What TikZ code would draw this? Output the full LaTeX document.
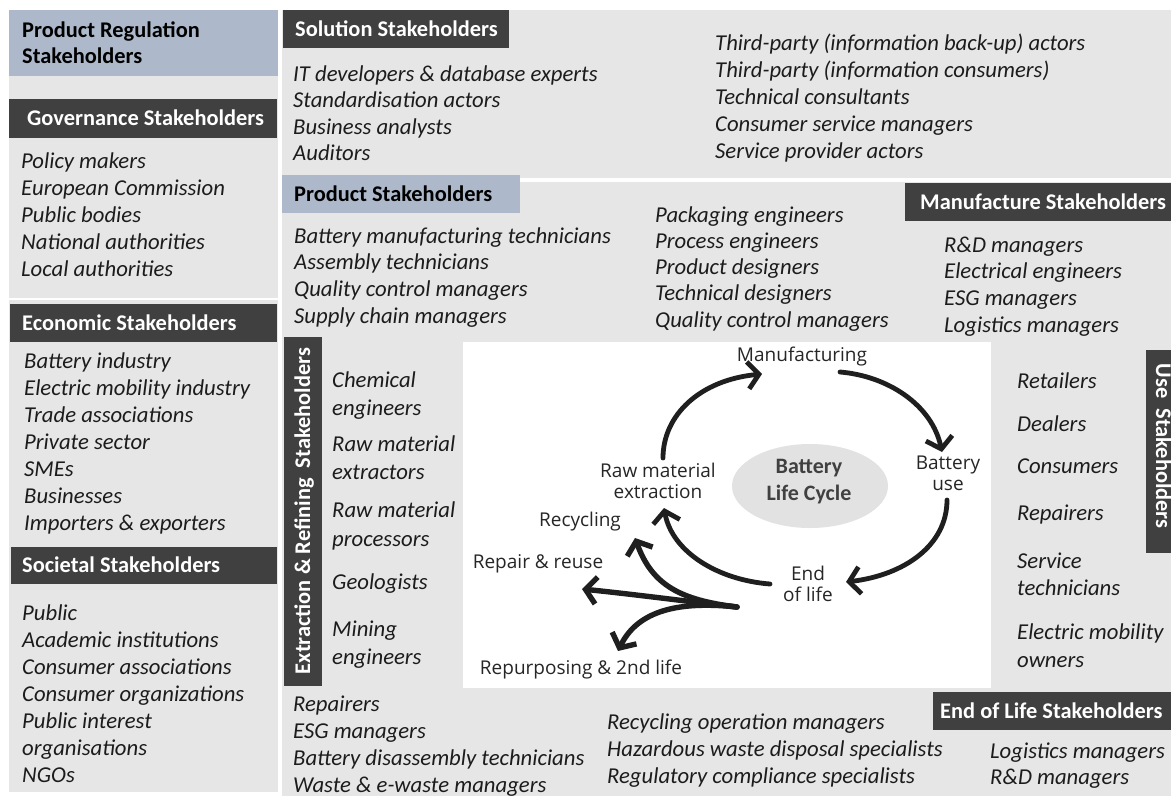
\documentclass[tikz,border=0pt]{standalone}
\usepackage{fontspec}
\setmainfont{Carlito}
\newfontfamily\cycfont{Open Sans}
\usetikzlibrary{arrows.meta,shapes.geometric}
\definecolor{panel}{HTML}{E7E6E6}
\definecolor{hdr}{HTML}{404040}
\definecolor{blueh}{HTML}{ADB9CA}
\definecolor{ink}{HTML}{1C1C1C}
\definecolor{ellip}{HTML}{E2E2E2}
\definecolor{cycink}{HTML}{262626}
\begin{document}
\begin{tikzpicture}[x=1pt,y=-1pt,
  item/.style={anchor=base west, inner sep=0pt, font=\fontsize{22.7}{27}\selectfont\itshape, text=ink},
  hbox/.style={fill=hdr, draw=none, inner sep=0pt, anchor=north west},
  bbox/.style={fill=blueh, draw=none, inner sep=0pt, anchor=north west},
  htxt/.style={anchor=west, inner sep=0pt, text=white, font=\fontsize{22.4}{26}\selectfont\bfseries, text height=14pt, text depth=0pt},
  btxt/.style={htxt, text=black},
  cyc/.style={inner sep=0pt, font=\cycfont\fontsize{19}{21}\selectfont, text=cycink, align=center},
  flow/.style={line width=4.8pt, line cap=round, draw=black!88, -{Straight Barb[length=11pt,width=27pt]}},
  branch/.style={flow, line width=5.4pt}
]
\useasboundingbox (0,0) rectangle (1171,796);
\clip (0,0) rectangle (1171,796);
\fill[white] (0,0) rectangle (1171,796);

% background panels
\fill[panel] (9,10) rectangle (278,298);
\fill[panel] (9,300) rectangle (278,792);
\fill[panel] (282,10) rectangle (1171,178);
\fill[panel] (282,182) rectangle (1171,796);
\fill[white] (463,342) rectangle (991,688);

% ---------- left column ----------
\node[bbox, minimum width=269pt, minimum height=66pt] (prH) at (9,10) {};
\node[btxt, anchor=base west] (prT1) at (22,37) {Product Regulation};
\node[btxt, anchor=base west] (prT2) at (22,63) {Stakeholders};

\node[hbox, minimum width=268pt, minimum height=39pt] (govH) at (9,99) {};
\node[htxt] (govT) at ([xshift=18pt]govH.west) {Governance Stakeholders};
\foreach \t [count=\i from 0] in {Policy makers, European Commission, Public bodies, National authorities, Local authorities}
  \node[item] (gov\i) at (21,168+27*\i) {\t};

\node[hbox, minimum width=267pt, minimum height=38pt] (ecoH) at (10,304) {};
\node[htxt] (ecoT) at ([xshift=12pt]ecoH.west) {Economic Stakeholders};
\foreach \t [count=\i from 0] in {Battery industry, Electric mobility industry, Trade associations, Private sector, SMEs, Businesses, Importers \& exporters}
  \node[item] (eco\i) at (24,368+27*\i) {\t};

\node[hbox, minimum width=266pt, minimum height=37pt] (socH) at (11,547) {};
\node[htxt] (socT) at ([xshift=11pt]socH.west) {Societal Stakeholders};
\foreach \t [count=\i from 0] in {Public, Academic institutions, Consumer associations, Consumer organizations, Public interest, organisations, NGOs}
  \node[item] (soc\i) at (22,620+27*\i) {\t};

% ---------- solution ----------
\node[hbox, minimum width=226pt, minimum height=38pt] (solH) at (283,10) {};
\node[htxt] (solT) at ([xshift=12pt]solH.west) {Solution Stakeholders};
\foreach \t [count=\i from 0] in {IT developers \& database experts, Standardisation actors, Business analysts, Auditors}
  \node[item] (solA\i) at (293,81+26.5*\i) {\t};
\foreach \t [count=\i from 0] in {Third-party (information back-up) actors, Third-party (information consumers), Technical consultants, Consumer service managers, Service provider actors}
  \node[item] (solB\i) at (715,50+27*\i) {\t};

% ---------- product ----------
\node[bbox, minimum width=238pt, minimum height=38pt] (proH) at (282,175) {};
\node[btxt] (proT) at ([xshift=12pt]proH.west) {Product Stakeholders};
\foreach \t [count=\i from 0] in {Battery manufacturing technicians, Assembly technicians, Quality control managers, Supply chain managers}
  \node[item] (proA\i) at (294,243+26.7*\i) {\t};
\foreach \t [count=\i from 0] in {Packaging engineers, Process engineers, Product designers, Technical designers, Quality control managers}
  \node[item] (proB\i) at (655,222+26.3*\i) {\t};

% ---------- manufacture ----------
\node[hbox, minimum width=266pt, minimum height=38pt] (manH) at (905,183) {};
\node[htxt] (manT) at ([xshift=15pt]manH.west) {Manufacture Stakeholders};
\foreach \t [count=\i from 0] in {R\&D managers, Electrical engineers, ESG managers, Logistics managers}
  \node[item] (man\i) at (944,252+26.7*\i) {\t};

% ---------- extraction ----------
\node[hbox, minimum width=38pt, minimum height=349pt] (extH) at (284,337) {};
\node[htxt, anchor=center, rotate=90] (extT) at (303,511) {Extraction \& Refining\ \ Stakeholders};
\foreach \t/\yy [count=\i] in {Chemical/387, engineers/415, Raw material/451, extractors/479, Raw material/517, processors/546, Geologists/589, Mining/636, engineers/664}
  \node[item] (ext\i) at (332,\yy) {\t};

% ---------- use ----------
\node[hbox, minimum width=34pt, minimum height=203pt] (useH) at (1146,350) {};
\node[htxt, anchor=center, rotate=-90] (useT) at (1163,446) {Use\ \ Stakeholders};
\foreach \t/\yy [count=\i] in {Retailers/388, Dealers/431, Consumers/473, Repairers/520, Service/568, technicians/595, Electric mobility/639, owners/667}
  \node[item] (usr\i) at (1017,\yy) {\t};

% ---------- end of life ----------
\node[hbox, minimum width=238pt, minimum height=38pt] (eolH) at (933,692) {};
\node[htxt] (eolT) at ([xshift=7pt]eolH.west) {End of Life Stakeholders};
\foreach \t [count=\i from 0] in {Repairers, ESG managers, Battery disassembly technicians, Waste \& e-waste managers}
  \node[item] (eolA\i) at (293,711+27*\i) {\t};
\foreach \t [count=\i from 0] in {Recycling operation managers, Hazardous waste disposal specialists, Regulatory compliance specialists}
  \node[item] (eolB\i) at (607,729+27*\i) {\t};
\foreach \t [count=\i from 0] in {Logistics managers, R\&D managers}
  \node[item] (eolC\i) at (990,758+26*\i) {\t};

% ---------- life cycle ----------
\node[ellipse, fill=ellip, inner sep=0pt, minimum width=156pt, minimum height=84pt] (core) at (810,486) {};
\node[inner sep=0pt, align=center, text=hdr, font=\fontsize{22}{27}\selectfont\bfseries] (coreT) at (809,482) {Battery\\Life Cycle};

\node[cyc] (manu) at (802,357) {Manufacturing};
\node[cyc] (buse) at (948,473) {Battery\\use};
\node[cyc] (eol) at (808,584) {End\\of life};
\node[cyc] (raw) at (658,481) {Raw material\\extraction};
\node[cyc] (rec) at (580,522) {Recycling};
\node[cyc] (rep) at (538,564) {Repair \& reuse};
\node[cyc] (rpp) at (581,670) {Repurposing \& 2nd life};

\coordinate (a1s) at (663,458);
\coordinate (a1e) at (762,374);
\coordinate (a2s) at (840,372);
\coordinate (a2e) at (942,452);
\coordinate (a3s) at (947,500);
\coordinate (a3e) at (846,582);
\coordinate (a4s) at (770,584);
\coordinate (a4e) at (664,508);
\coordinate (bs) at (737,607);
\coordinate (b1e) at (635,538);
\coordinate (b2e) at (582,589);
\coordinate (b3e) at (618,651);

\draw[flow] (a1s) .. controls (663,415) and (700,380) .. (a1e);
\draw[flow] (a2s) .. controls (888,376) and (932,405) .. (a2e);
\draw[flow] (a3s) .. controls (947,545) and (905,575) .. (a3e);
\draw[flow] (a4s) .. controls (718,580) and (672,552) .. (a4e);
\draw[branch] (bs) .. controls (680,600) and (652,585) .. (b1e);
\draw[branch] (bs) .. controls (700,603) and (640,595) .. (b2e);
\draw[branch] (bs) .. controls (672,600) and (636,614) .. (b3e);
\end{tikzpicture}
\end{document}
